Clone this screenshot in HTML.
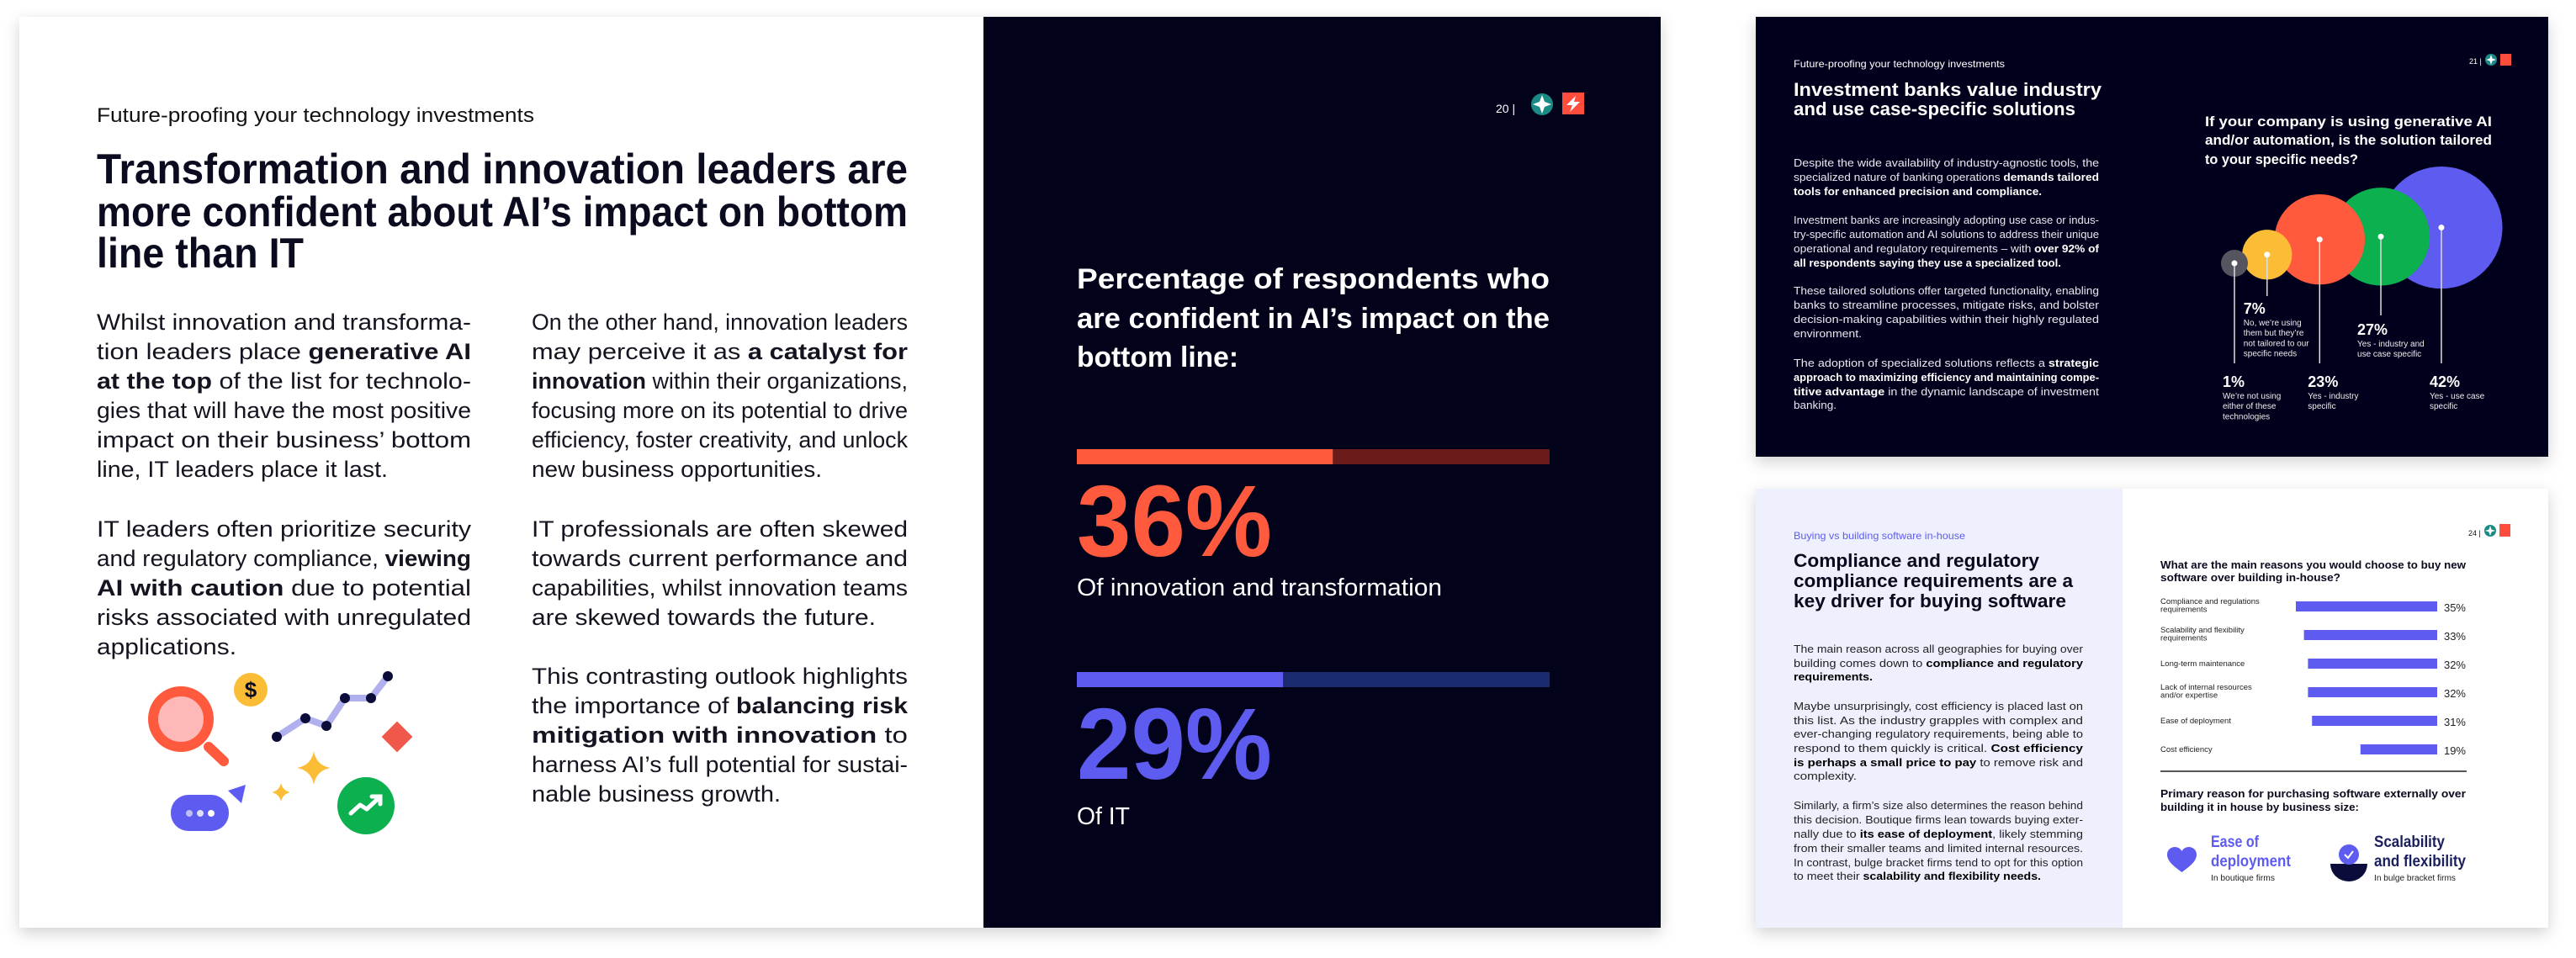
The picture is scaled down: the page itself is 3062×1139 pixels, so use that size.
<!DOCTYPE html>
<html><head><meta charset="utf-8"><style>
html,body{margin:0;padding:0;background:#fff}
svg{display:block}
text{font-family:"Liberation Sans",sans-serif}
</style></head><body>
<svg id="root" xmlns="http://www.w3.org/2000/svg" width="3062" height="1139" viewBox="0 0 3062 1139">
<defs>
<filter id="sh" x="-5%" y="-5%" width="110%" height="112%"><feDropShadow dx="0" dy="6" stdDeviation="9" flood-color="#000" flood-opacity="0.18"/></filter>
</defs>
<rect width="3062" height="1139" fill="#fff"/>
<g>
<rect x="23" y="20" width="1951" height="1083" fill="#fff" filter="url(#sh)"/>
<rect x="1169" y="20" width="805" height="1083" fill="#02021a"/>
<text x="115" y="145" font-size="24" fill="#111" textLength="520" lengthAdjust="spacingAndGlyphs">Future-proofing your technology investments</text>
<g font-weight="bold" font-size="50" fill="#0b0b1f">
<text x="115" y="218" textLength="964" lengthAdjust="spacingAndGlyphs">Transformation and innovation leaders are</text>
<text x="115" y="269" textLength="964" lengthAdjust="spacingAndGlyphs">more confident about AI’s impact on bottom</text>
<text x="115" y="318" textLength="246" lengthAdjust="spacingAndGlyphs">line than IT</text>
</g>
<g font-size="27" fill="#141420">
<text x="115" y="392" textLength="445" lengthAdjust="spacingAndGlyphs">Whilst innovation and transforma-</text>
<text x="115" y="427" textLength="445" lengthAdjust="spacingAndGlyphs">tion leaders place <tspan font-weight="bold">generative AI</tspan></text>
<text x="115" y="462" textLength="445" lengthAdjust="spacingAndGlyphs"><tspan font-weight="bold">at the top</tspan> of the list for technolo-</text>
<text x="115" y="497" textLength="445" lengthAdjust="spacingAndGlyphs">gies that will have the most positive</text>
<text x="115" y="532" textLength="445" lengthAdjust="spacingAndGlyphs">impact on their business’ bottom</text>
<text x="115" y="567" textLength="346" lengthAdjust="spacingAndGlyphs">line, IT leaders place it last.</text>
<text x="115" y="638" textLength="445" lengthAdjust="spacingAndGlyphs">IT leaders often prioritize security</text>
<text x="115" y="673" textLength="445" lengthAdjust="spacingAndGlyphs">and regulatory compliance, <tspan font-weight="bold">viewing</tspan></text>
<text x="115" y="708" textLength="445" lengthAdjust="spacingAndGlyphs"><tspan font-weight="bold">AI with caution</tspan> due to potential</text>
<text x="115" y="743" textLength="445" lengthAdjust="spacingAndGlyphs">risks associated with unregulated</text>
<text x="115" y="778" textLength="166" lengthAdjust="spacingAndGlyphs">applications.</text>
</g>
<g font-size="27" fill="#141420">
<text x="632" y="392" textLength="447" lengthAdjust="spacingAndGlyphs">On the other hand, innovation leaders</text>
<text x="632" y="427" textLength="447" lengthAdjust="spacingAndGlyphs">may perceive it as <tspan font-weight="bold">a catalyst for</tspan></text>
<text x="632" y="462" textLength="447" lengthAdjust="spacingAndGlyphs"><tspan font-weight="bold">innovation</tspan> within their organizations,</text>
<text x="632" y="497" textLength="447" lengthAdjust="spacingAndGlyphs">focusing more on its potential to drive</text>
<text x="632" y="532" textLength="447" lengthAdjust="spacingAndGlyphs">efficiency, foster creativity, and unlock</text>
<text x="632" y="567" textLength="345" lengthAdjust="spacingAndGlyphs">new business opportunities.</text>
<text x="632" y="638" textLength="447" lengthAdjust="spacingAndGlyphs">IT professionals are often skewed</text>
<text x="632" y="673" textLength="447" lengthAdjust="spacingAndGlyphs">towards current performance and</text>
<text x="632" y="708" textLength="447" lengthAdjust="spacingAndGlyphs">capabilities, whilst innovation teams</text>
<text x="632" y="743" textLength="409" lengthAdjust="spacingAndGlyphs">are skewed towards the future.</text>
<text x="632" y="813" textLength="447" lengthAdjust="spacingAndGlyphs">This contrasting outlook highlights</text>
<text x="632" y="848" textLength="447" lengthAdjust="spacingAndGlyphs">the importance of <tspan font-weight="bold">balancing risk</tspan></text>
<text x="632" y="883" textLength="447" lengthAdjust="spacingAndGlyphs"><tspan font-weight="bold">mitigation with innovation</tspan> to</text>
<text x="632" y="918" textLength="447" lengthAdjust="spacingAndGlyphs">harness AI’s full potential for sustai-</text>
<text x="632" y="953" textLength="296" lengthAdjust="spacingAndGlyphs">nable business growth.</text>
</g>
<g>
<circle cx="215" cy="855" r="33" fill="#ffb8b8" stroke="#ff5a3d" stroke-width="12"/>
<line x1="248" y1="888" x2="266" y2="905" stroke="#ff5a3d" stroke-width="12" stroke-linecap="round"/>
<circle cx="298" cy="820" r="20" fill="#fbbd35"/>
<text x="298" y="829" font-size="26" font-weight="bold" text-anchor="middle" fill="#0b0b1f">$</text>
<polyline points="329,876 363,854 388,863 410,830 441,830 461,804" fill="none" stroke="#b0b0ee" stroke-width="8"/>
<g fill="#0c0c3a"><circle cx="329" cy="876" r="6"/><circle cx="363" cy="854" r="6"/><circle cx="388" cy="863" r="6"/><circle cx="410" cy="830" r="6"/><circle cx="441" cy="830" r="6"/><circle cx="461" cy="804" r="6"/></g>
<rect x="459" y="863" width="26" height="26" fill="#f0584a" transform="rotate(45 472 876)"/>
<path d="M373 893 Q376 910 393 913 Q376 916 373 933 Q370 916 353 913 Q370 910 373 893Z" fill="#fbbd35"/>
<path d="M334 931 Q336 940 345 942 Q336 944 334 953 Q332 944 323 942 Q332 940 334 931Z" fill="#fbbd35"/>
<rect x="203" y="945" width="69" height="43" rx="21" fill="#5e5cf0"/>
<g fill="#fff"><circle cx="225" cy="967" r="4" opacity="0.6"/><circle cx="238" cy="967" r="4" opacity="0.8"/><circle cx="251" cy="967" r="4"/></g>
<path d="M271 940 L292 933 L287 955Z" fill="#5e5cf0"/>
<circle cx="435" cy="958" r="34" fill="#0cb04f"/>
<polyline points="417,967 428,957 436,962 451,948" fill="none" stroke="#fff" stroke-width="5" stroke-linecap="round" stroke-linejoin="round"/>
<polyline points="442,947 452,947 452,956" fill="none" stroke="#fff" stroke-width="5" stroke-linecap="round"/>
</g>
<g>
<text x="1778" y="134" font-size="14" fill="#fff">20  |</text>
<circle cx="1833" cy="124" r="13" fill="#1b8a86"/>
<path d="M1833 113 L1836 121 L1844 124 L1836 127 L1833 135 L1830 127 L1822 124 L1830 121Z" fill="#fff"/>
<rect x="1857" y="110" width="26" height="26" fill="#ff4d3d"/>
<path d="M1873 114 L1862 125 L1869 125 L1866 133 L1878 121 L1871 121Z" fill="#fff"/>
</g>
<g font-weight="bold" font-size="34" fill="#fff">
<text x="1280" y="343" textLength="562" lengthAdjust="spacingAndGlyphs">Percentage of respondents who</text>
<text x="1280" y="390" textLength="562" lengthAdjust="spacingAndGlyphs">are confident in AI’s impact on the</text>
<text x="1280" y="436" textLength="192" lengthAdjust="spacingAndGlyphs">bottom line:</text>
</g>
<g id="progress"></g>
</g>
<g>
<rect x="2087" y="20" width="942" height="523" fill="#02021a" filter="url(#sh)"/>
<text x="2132" y="80" font-size="12" fill="#fff" textLength="251" lengthAdjust="spacingAndGlyphs">Future-proofing your technology investments</text>
<g font-size="22" font-weight="bold" fill="#fff">
<text x="2132" y="114" textLength="366" lengthAdjust="spacingAndGlyphs">Investment banks value industry</text>
<text x="2132" y="137" textLength="335" lengthAdjust="spacingAndGlyphs">and use case-specific solutions</text>
</g>
<g font-size="13" fill="#e8e8f0">
<text x="2132" y="198" textLength="363" lengthAdjust="spacingAndGlyphs">Despite the wide availability of industry-agnostic tools, the</text>
<text x="2132" y="215" textLength="363" lengthAdjust="spacingAndGlyphs">specialized nature of banking operations <tspan font-weight="bold" fill="#fff">demands tailored</tspan></text>
<text x="2132" y="232" textLength="295" lengthAdjust="spacingAndGlyphs" font-weight="bold" fill="#fff">tools for enhanced precision and compliance.</text>
<text x="2132" y="266" textLength="363" lengthAdjust="spacingAndGlyphs">Investment banks are increasingly adopting use case or indus-</text>
<text x="2132" y="283" textLength="363" lengthAdjust="spacingAndGlyphs">try-specific automation and AI solutions to address their unique</text>
<text x="2132" y="300" textLength="363" lengthAdjust="spacingAndGlyphs">operational and regulatory requirements – with <tspan font-weight="bold" fill="#fff">over 92% of</tspan></text>
<text x="2132" y="317" textLength="318" lengthAdjust="spacingAndGlyphs" font-weight="bold" fill="#fff">all respondents saying they use a specialized tool.</text>
<text x="2132" y="350" textLength="363" lengthAdjust="spacingAndGlyphs">These tailored solutions offer targeted functionality, enabling</text>
<text x="2132" y="367" textLength="363" lengthAdjust="spacingAndGlyphs">banks to streamline processes, mitigate risks, and bolster</text>
<text x="2132" y="384" textLength="363" lengthAdjust="spacingAndGlyphs">decision-making capabilities within their highly regulated</text>
<text x="2132" y="401" textLength="81" lengthAdjust="spacingAndGlyphs">environment.</text>
<text x="2132" y="436" textLength="363" lengthAdjust="spacingAndGlyphs">The adoption of specialized solutions reflects a <tspan font-weight="bold" fill="#fff">strategic</tspan></text>
<text x="2132" y="453" textLength="363" lengthAdjust="spacingAndGlyphs" font-weight="bold" fill="#fff">approach to maximizing efficiency and maintaining compe-</text>
<text x="2132" y="470" textLength="363" lengthAdjust="spacingAndGlyphs"><tspan font-weight="bold" fill="#fff">titive advantage</tspan> in the dynamic landscape of investment</text>
<text x="2132" y="486" textLength="51" lengthAdjust="spacingAndGlyphs">banking.</text>
</g>
<g>
<text x="2935" y="76" font-size="9" fill="#fff">21 |</text>
<circle cx="2961" cy="71" r="7" fill="#1b8a86"/>
<path d="M2961 65 L2962.5 69.5 L2967 71 L2962.5 72.5 L2961 77 L2959.5 72.5 L2955 71 L2959.5 69.5Z" fill="#fff"/>
<rect x="2972" y="64" width="13" height="14" fill="#ff4d3d"/>
</g>
<g font-size="17" font-weight="bold" fill="#fff">
<text x="2621" y="150" textLength="341" lengthAdjust="spacingAndGlyphs">If your company is using generative AI</text>
<text x="2621" y="172" textLength="341" lengthAdjust="spacingAndGlyphs">and/or automation, is the solution tailored</text>
<text x="2621" y="195" textLength="182" lengthAdjust="spacingAndGlyphs">to your specific needs?</text>
</g>
<g id="bubbles"></g>
</g>
<g>
<rect x="2087" y="581" width="942" height="522" fill="#fff" filter="url(#sh)"/>
<rect x="2087" y="581" width="436" height="522" fill="#eef0fd"/>
<text x="2132" y="641" font-size="12" fill="#5e5cf0" textLength="204" lengthAdjust="spacingAndGlyphs">Buying vs building software in-house</text>
<g font-size="22" font-weight="bold" fill="#0a0a1e">
<text x="2132" y="674" textLength="292" lengthAdjust="spacingAndGlyphs">Compliance and regulatory</text>
<text x="2132" y="698" textLength="332" lengthAdjust="spacingAndGlyphs">compliance requirements are a</text>
<text x="2132" y="722" textLength="324" lengthAdjust="spacingAndGlyphs">key driver for buying software</text>
</g>
<g font-size="13" fill="#222">
<text x="2132" y="776" textLength="344" lengthAdjust="spacingAndGlyphs">The main reason across all geographies for buying over</text>
<text x="2132" y="793" textLength="344" lengthAdjust="spacingAndGlyphs">building comes down to <tspan font-weight="bold" fill="#000">compliance and regulatory</tspan></text>
<text x="2132" y="809" textLength="94" lengthAdjust="spacingAndGlyphs" font-weight="bold" fill="#000">requirements.</text>
<text x="2132" y="844" textLength="344" lengthAdjust="spacingAndGlyphs">Maybe unsurprisingly, cost efficiency is placed last on</text>
<text x="2132" y="861" textLength="344" lengthAdjust="spacingAndGlyphs">this list. As the industry grapples with complex and</text>
<text x="2132" y="877" textLength="344" lengthAdjust="spacingAndGlyphs">ever-changing regulatory requirements, being able to</text>
<text x="2132" y="894" textLength="344" lengthAdjust="spacingAndGlyphs">respond to them quickly is critical. <tspan font-weight="bold" fill="#000">Cost efficiency</tspan></text>
<text x="2132" y="911" textLength="344" lengthAdjust="spacingAndGlyphs"><tspan font-weight="bold" fill="#000">is perhaps a small price to pay</tspan> to remove risk and</text>
<text x="2132" y="927" textLength="75" lengthAdjust="spacingAndGlyphs">complexity.</text>
<text x="2132" y="962" textLength="344" lengthAdjust="spacingAndGlyphs">Similarly, a firm’s size also determines the reason behind</text>
<text x="2132" y="979" textLength="344" lengthAdjust="spacingAndGlyphs">this decision. Boutique firms lean towards buying exter-</text>
<text x="2132" y="996" textLength="344" lengthAdjust="spacingAndGlyphs">nally due to <tspan font-weight="bold" fill="#000">its ease of deployment</tspan>, likely stemming</text>
<text x="2132" y="1013" textLength="344" lengthAdjust="spacingAndGlyphs">from their smaller teams and limited internal resources.</text>
<text x="2132" y="1030" textLength="344" lengthAdjust="spacingAndGlyphs">In contrast, bulge bracket firms tend to opt for this option</text>
<text x="2132" y="1046" textLength="294" lengthAdjust="spacingAndGlyphs">to meet their <tspan font-weight="bold" fill="#000">scalability and flexibility needs.</tspan></text>
</g>
<g>
<text x="2934" y="637" font-size="9" fill="#111">24 |</text>
<circle cx="2960" cy="631" r="7" fill="#1b8a86"/>
<path d="M2960 625 L2961.5 629.5 L2966 631 L2961.5 632.5 L2960 637 L2958.5 632.5 L2954 631 L2958.5 629.5Z" fill="#fff"/>
<rect x="2971" y="623" width="13" height="15" fill="#ff4d3d"/>
</g>
<g font-size="13" font-weight="bold" fill="#0a0a1e">
<text x="2568" y="676" textLength="363" lengthAdjust="spacingAndGlyphs">What are the main reasons you would choose to buy new</text>
<text x="2568" y="691" textLength="214" lengthAdjust="spacingAndGlyphs">software over building in-house?</text>
</g>
<g id="bars"></g>
<line x1="2568" y1="917" x2="2932" y2="917" stroke="#555" stroke-width="2"/>
<g font-size="13" font-weight="bold" fill="#0a0a1e">
<text x="2568" y="948" textLength="363" lengthAdjust="spacingAndGlyphs">Primary reason for purchasing software externally over</text>
<text x="2568" y="964" textLength="236" lengthAdjust="spacingAndGlyphs">building it in house by business size:</text>
</g>
<g>
<path d="M2593.5 1037 C2584 1030 2576 1024 2576 1016 C2576 1010 2581 1007 2585 1007 C2589 1007 2592 1009 2593.5 1012 C2595 1009 2598 1007 2602 1007 C2606 1007 2611 1010 2611 1016 C2611 1024 2603 1030 2593.5 1037Z" fill="#5e5cf0"/>
<text x="2628" y="1007" font-size="19" font-weight="bold" fill="#5e5cf0" textLength="57" lengthAdjust="spacingAndGlyphs">Ease of</text>
<text x="2628" y="1030" font-size="19" font-weight="bold" fill="#5e5cf0" textLength="95" lengthAdjust="spacingAndGlyphs">deployment</text>
<text x="2628" y="1047" font-size="10" fill="#222" textLength="76" lengthAdjust="spacingAndGlyphs">In boutique firms</text>
</g>
<g>
<path d="M2770 1027 L2814 1027 A22 21 0 0 1 2770 1027Z" fill="#0c0c3a"/>
<circle cx="2792" cy="1016" r="12" fill="#5e5cf0"/>
<polyline points="2787,1016 2791,1020 2797,1012" fill="none" stroke="#fff" stroke-width="2"/>
<text x="2822" y="1007" font-size="19" font-weight="bold" fill="#1a1f5e" textLength="84" lengthAdjust="spacingAndGlyphs">Scalability</text>
<text x="2822" y="1030" font-size="19" font-weight="bold" fill="#1a1f5e" textLength="109" lengthAdjust="spacingAndGlyphs">and flexibility</text>
<text x="2822" y="1047" font-size="10" fill="#222" textLength="97" lengthAdjust="spacingAndGlyphs">In bulge bracket firms</text>
</g>
</g>
</svg>
<script>
// ---- progress chart data ----
const progressLabels = ["Of innovation and transformation", "Of IT"];
const progressValues = [36, 29];
// ---- bubble chart data ----
const bubbleLabels = [["We’re not using","either of these","technologies"],["No, we’re using","them but they’re","not tailored to our","specific needs"],["Yes - industry","specific"],["Yes - industry and","use case specific"],["Yes - use case","specific"]];
const bubbleValues = [1, 7, 23, 27, 42];
// ---- bar chart data ----
const barCategories = [["Compliance and regulations","requirements"],["Scalability and flexibility","requirements"],["Long-term maintenance"],["Lack of internal resources","and/or expertise"],["Ease of deployment"],["Cost efficiency"]];
const barValues = [35, 33, 32, 32, 31, 19];

const NS = "http://www.w3.org/2000/svg";
function mk(tag, attrs, parent){ const e=document.createElementNS(NS,tag); for(const k in attrs) e.setAttribute(k,attrs[k]); parent.appendChild(e); return e; }

(function(){
  const g=document.getElementById('progress');
  const x0=1280, W=562, maxV=66.5;
  const xs=v=>W*v/maxV;
  const fills=["#ff5a3d","#5e5cf0"], tracks=["#6b1a1a","#1a2a6e"];
  progressValues.forEach((v,i)=>{
    const y=534+i*265;
    const t=mk('rect',{x:x0,y:y,width:W,height:18,fill:tracks[i]},g);
    
    
    const f=mk('rect',{x:x0,y:y,width:xs(v),height:18,fill:fills[i]},g);
    
    
    const n=mk('text',{x:x0,y:y+127,'font-size':121,'font-weight':'bold',fill:fills[i],textLength:232,lengthAdjust:'spacingAndGlyphs'},g);
    n.textContent=v+'%';
    
    
    const l=mk('text',{x:x0,y:y+174+(i?7:0),'font-size':29,fill:'#fff',textLength:(i?63:434),lengthAdjust:'spacingAndGlyphs'},g);
    l.textContent=progressLabels[i];
    
    
  });
})();

(function(){
  const g=document.getElementById('bubbles');
  const colors=["#55555f","#fbbd35","#ff5a3d","#0cb04f","#5e5cf0"];
  const rs=v=>Math.max(16, 11.2*Math.sqrt(v));
  const r=bubbleValues.map(rs);
  const cx=[]; let x=2656;
  r.forEach((ri,i)=>{ if(i>0) x+= (0.95-0.1*i)*(r[i-1]+ri); cx.push(x); });
  const cy=r.map(ri=>325-0.75*ri);
  [4,3,2,1,0].forEach(i=>{
    const c=mk('circle',{cx:cx[i],cy:cy[i],r:r[i],fill:colors[i]},g);
    
    
  });
  bubbleValues.forEach((v,i)=>{
    const low=(i%2===0);
    const yEnd= low?432:(i===1?352:375);
    const ln=mk('line',{x1:cx[i],y1:cy[i],x2:cx[i],y2:yEnd,stroke:'#ddd','stroke-width':1.5},g);
    
    
    const d=mk('circle',{cx:cx[i],cy:cy[i],r:3.5,fill:'#fff'},g);
    
    
    const lx= low? cx[i]-14 : cx[i]-28;
    const ly= low? 460 : (i===1?373:398);
    const t=mk('text',{x:lx,y:ly,'font-size':18,'font-weight':'bold',fill:'#fff'},g);
    t.textContent=v+'%';
    
    
    bubbleLabels[i].forEach((s,j)=>{
      const tt=mk('text',{x:lx,y:ly+14+j*12.2,'font-size':10,fill:'#eee'},g);
      tt.textContent=s;
      
      
    });
  });
})();

(function(){
  const g=document.getElementById('bars');
  const xr=2897, scale=4.8;
  barValues.forEach((v,i)=>{
    const cy=721+i*34;
    const b=mk('rect',{x:xr-v*scale,y:cy-6,width:v*scale,height:12,fill:'#5e5cf0'},g);
    
    
    const t=mk('text',{x:2931,y:cy+6,'font-size':13,fill:'#222','text-anchor':'end'},g);
    t.textContent=v+'%';
    
    
    const lines=barCategories[i];
    lines.forEach((s,j)=>{
      const y= lines.length===2 ? cy-3+j*9.5 : cy+3;
      const l=mk('text',{x:2568,y:y,'font-size':9.5,fill:'#222'},g);
      l.textContent=s;
      
      
    });
  });
})();
</script>
</body></html>
